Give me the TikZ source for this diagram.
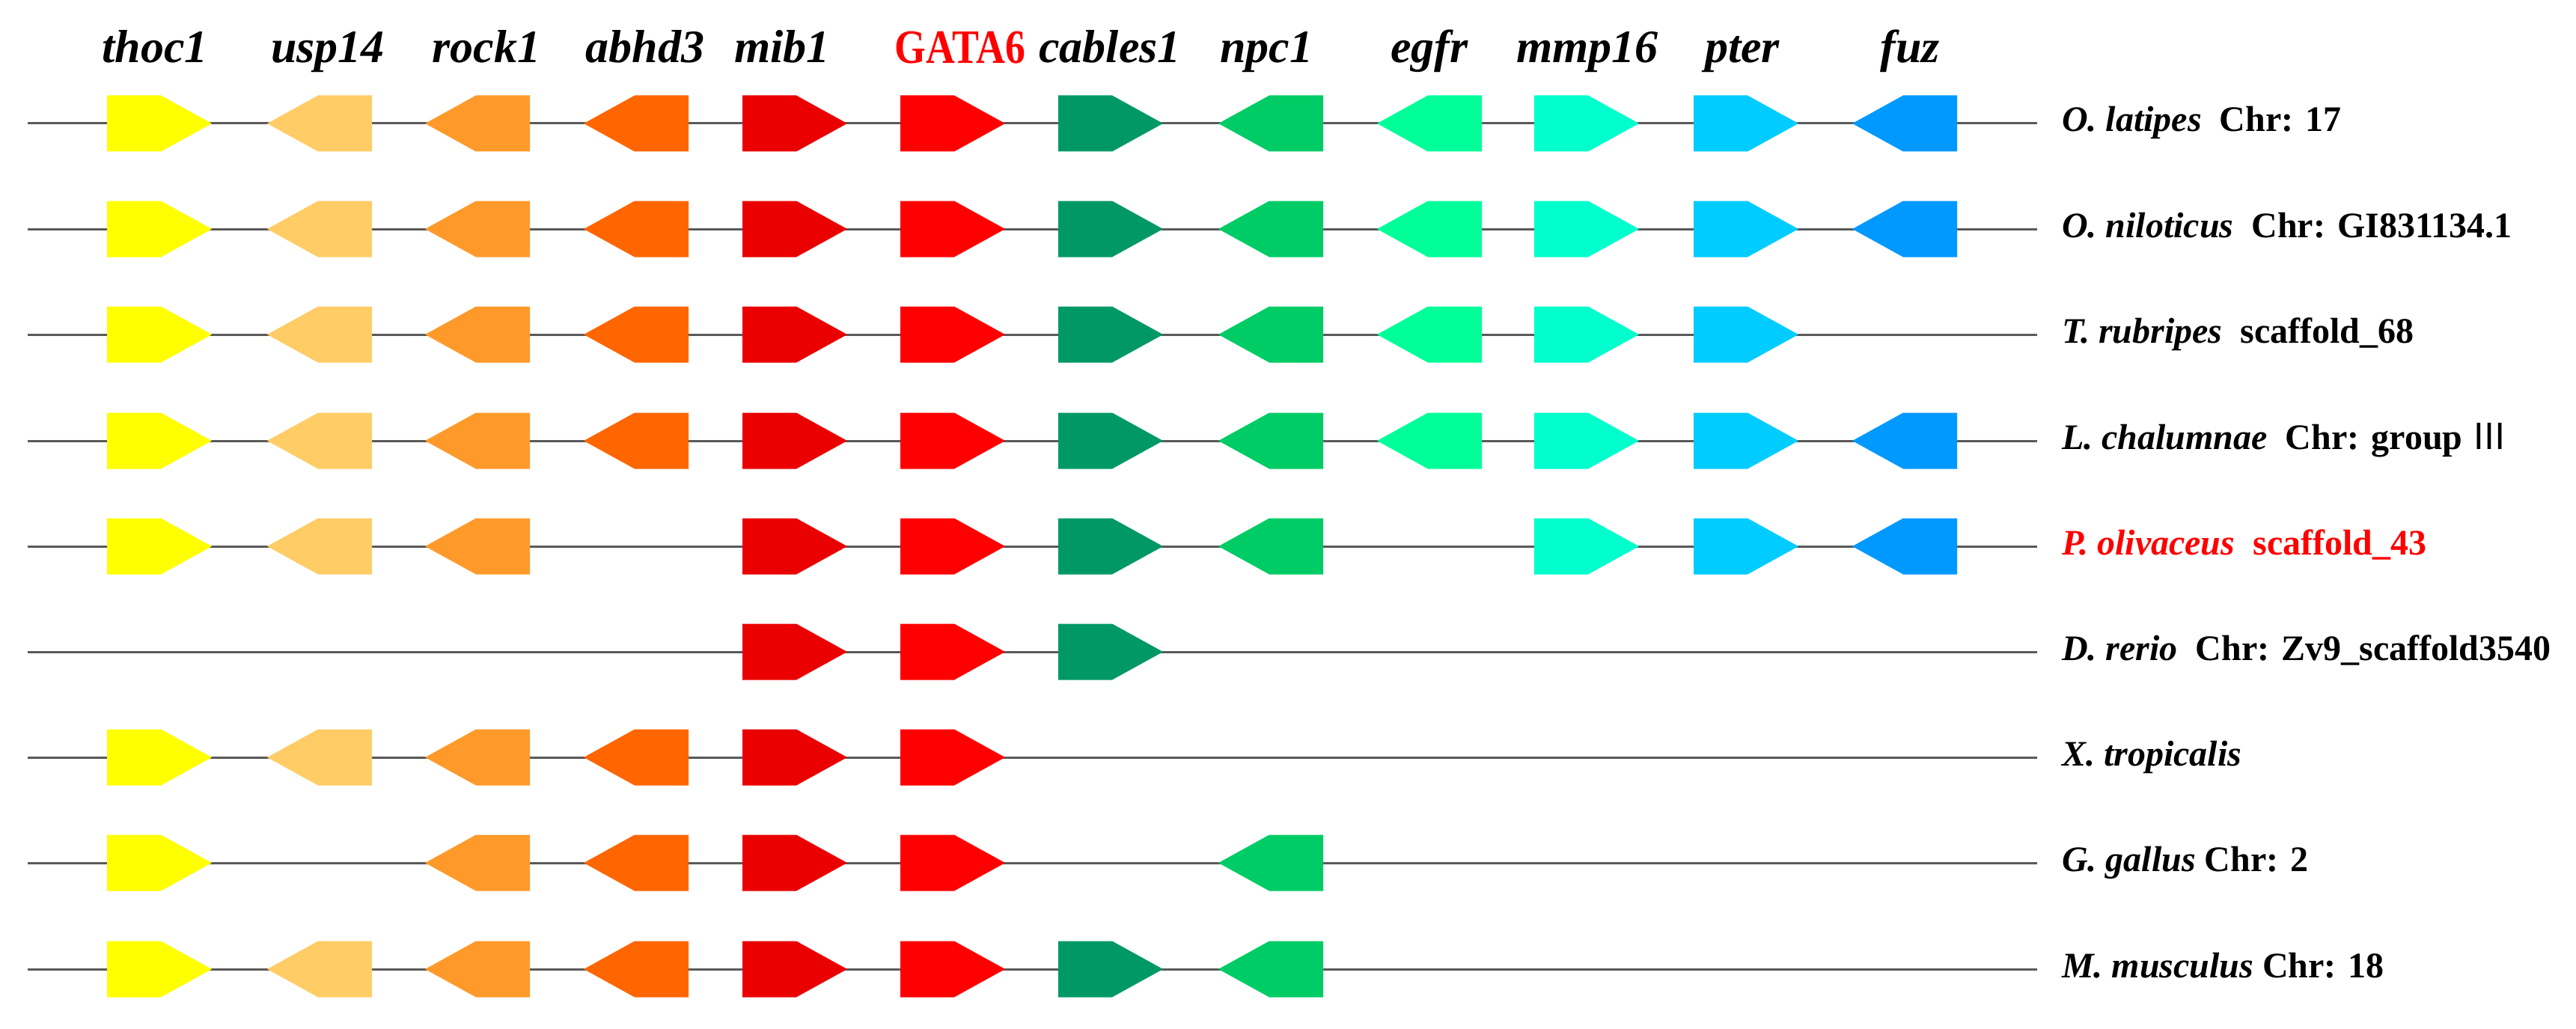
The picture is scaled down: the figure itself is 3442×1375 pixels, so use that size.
\documentclass[tikz,border=0pt]{standalone}
\usepackage{fontspec}
\setmainfont{Liberation Serif}
\newfontfamily\cjkf{Noto Sans CJK SC}
\definecolor{cthoc}{HTML}{FFFF00}
\definecolor{cusp}{HTML}{FFCC66}
\definecolor{crock}{HTML}{FF9A2A}
\definecolor{cabhd}{HTML}{FF6600}
\definecolor{cmib}{HTML}{EA0000}
\definecolor{cgata}{HTML}{FF0000}
\definecolor{ccab}{HTML}{009966}
\definecolor{cnpc}{HTML}{00CC66}
\definecolor{cegfr}{HTML}{00FF99}
\definecolor{cmmp}{HTML}{00FFCC}
\definecolor{cpter}{HTML}{00CCFF}
\definecolor{cfuz}{HTML}{0099FF}
\definecolor{cline}{HTML}{5A5A5A}
\tikzset{
  generight/.pic={\fill[pic actions] (-70,-37.5) -- (2,-37.5) -- (70,0) -- (2,37.5) -- (-70,37.5) -- cycle;},
  geneleft/.pic={\fill[pic actions] (70,-37.5) -- (-2,-37.5) -- (-70,0) -- (-2,37.5) -- (70,37.5) -- cycle;},
  backbone/.style={draw=cline, line width=3pt},
  hdr/.style={font=\fontsize{62}{66}\selectfont\bfseries\itshape, anchor=base, inner sep=0pt},
  lab/.style={font=\fontsize{48}{54}\selectfont\bfseries, anchor=base west, inner sep=0pt},
}
\newcommand\gn[2]{\ifcase#2\relax\or
  \pic[fill=cthoc] at (213,#1) {generight};\or
  \pic[fill=cusp]  at (427,#1) {geneleft};\or
  \pic[fill=crock] at (638,#1) {geneleft};\or
  \pic[fill=cabhd] at (850,#1) {geneleft};\or
  \pic[fill=cmib]  at (1062,#1) {generight};\or
  \pic[fill=cgata] at (1273,#1) {generight};\or
  \pic[fill=ccab]  at (1484,#1) {generight};\or
  \pic[fill=cnpc]  at (1698,#1) {geneleft};\or
  \pic[fill=cegfr] at (1910,#1) {geneleft};\or
  \pic[fill=cmmp]  at (2120,#1) {generight};\or
  \pic[fill=cpter] at (2333,#1) {generight};\or
  \pic[fill=cfuz]  at (2545,#1) {geneleft};\fi}
\begin{document}
\begin{tikzpicture}[x=1pt,y=-1pt]
\useasboundingbox (0,0) rectangle (3442,1375);
% header gene names
\node[hdr] (h1) at (207,84) {thoc1};
\node[hdr] (h2) at (438,84) {usp14};
\node[hdr] (h3) at (650,84) {rock1};
\node[hdr] (h4) at (862,84) {abhd3};
\node[hdr] (h5) at (1045,84) {mib1};
\node[hdr, font=\fontsize{64}{68}\selectfont\bfseries, text=red] (h6) at (1283,85) {\scalebox{0.84}[1]{GATA6}};
\node[hdr] (h7) at (1483,84) {cables1};
\node[hdr] (h8) at (1692,84) {npc1};
\node[hdr] (h9) at (1910,84) {egfr};
\node[hdr] (h10) at (2121,84) {mmp16};
\node[hdr] (h11) at (2328,84) {pter};
\node[hdr] (h12) at (2552,84) {fuz};
% rows
\foreach \y/\lst in {165/{1,2,3,4,5,6,7,8,9,10,11,12},
                     306/{1,2,3,4,5,6,7,8,9,10,11,12},
                     447/{1,2,3,4,5,6,7,8,9,10,11},
                     589/{1,2,3,4,5,6,7,8,9,10,11,12},
                     730/{1,2,3,5,6,7,8,10,11,12},
                     871/{5,6,7},
                     1012/{1,2,3,4,5,6},
                     1153/{1,3,4,5,6,8},
                     1295/{1,2,3,4,5,6,7,8}}{
  \draw[backbone] (37,\y) -- (2722,\y);
  \foreach \g in \lst {\gn{\y}{\g}}
}
% species labels
\node[lab] (s1) at (2755,176) {\textit{O. latipes}~~Chr: 17};
\node[lab] (s2) at (2755,317) {\textit{O. niloticus}~~Chr: GI831134.1};
\node[lab] (s3) at (2755,458) {\textit{T. rubripes}~~scaffold\_68};
\node[lab] (s4) at (2755,600) {\textit{L. chalumnae}~~Chr: group~{\cjkf\mdseries Ⅲ}};
\node[lab, text=red] (s5) at (2755,741) {\textit{P. olivaceus}~~scaffold\_43};
\node[lab] (s6) at (2755,882) {\textit{D. rerio}~~Chr: Zv9\_scaffold3540};
\node[lab] (s7) at (2755,1023) {\textit{X. tropicalis}};
\node[lab] (s8) at (2755,1164) {\textit{G. gallus} Chr: 2};
\node[lab] (s9) at (2755,1306) {\textit{M. musculus} Chr: 18};
\end{tikzpicture}
\end{document}
